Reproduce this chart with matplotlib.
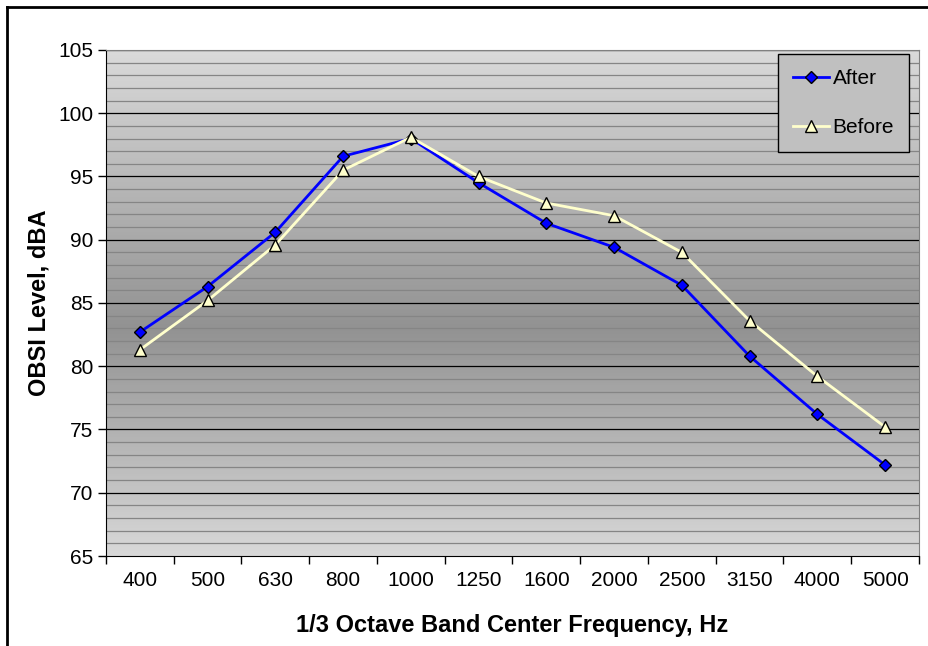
import numpy as np
import matplotlib.pyplot as plt
from matplotlib.colors import LinearSegmentedColormap
from matplotlib.lines import Line2D

plt.rcParams['font.family'] = ['Liberation Sans', 'DejaVu Sans']

bands = ["400", "500", "630", "800", "1000", "1250", "1600",
         "2000", "2500", "3150", "4000", "5000"]
after = [82.7, 86.3, 90.6, 96.6, 98.0, 94.5, 91.3, 89.4, 86.4, 80.8, 76.2, 72.2]
before = [81.3, 85.2, 89.6, 95.5, 98.1, 95.0, 92.9, 91.9, 89.0, 83.6, 79.2, 75.2]

fig = plt.figure(figsize=(9.29, 6.46), dpi=100)
ax = fig.add_axes([106 / 929, 1 - 556 / 646, 813 / 929, 506 / 646])

# outer chart frame (top and left edges)
fig.add_artist(Line2D([7 / 929, 7 / 929], [0, 1 - 7 / 646],
                      transform=fig.transFigure, color="black", lw=2))
fig.add_artist(Line2D([7 / 929, 1], [1 - 7 / 646, 1 - 7 / 646],
                      transform=fig.transFigure, color="black", lw=2))

xs = np.arange(len(bands))
ax.set_xlim(-0.5, len(bands) - 0.5)
ax.set_ylim(65, 105)

# vertical gray gradient, darkest just below the middle
grad = LinearSegmentedColormap.from_list(
    "plotbg", [(0.0, "#dadada"), (0.55, "#929292"), (1.0, "#d8d8d8")])
g = np.linspace(0, 1, 400).reshape(-1, 1)
ax.imshow(g, cmap=grad, aspect="auto", extent=(-0.5, len(bands) - 0.5, 65, 105),
          origin="upper", zorder=0)

for v in range(66, 105):
    if v % 5:
        ax.axhline(v, color="#858585", lw=0.9, zorder=1)
for v in range(70, 106, 5):
    ax.axhline(v, color="black", lw=0.9, zorder=1)

ax.plot(xs, after, color="#0000ff", lw=2.0, marker="D", ms=6.5,
        mfc="#0000ff", mec="black", mew=1.0, label="After", zorder=3)
ax.plot(xs, before, color="#ffffcc", lw=2.0, marker="^", ms=8.5,
        mfc="#ffffcc", mec="black", mew=1.0, label="Before", zorder=3)

ax.set_yticks(range(65, 106, 5))
ax.tick_params(axis="y", direction="out", length=6, width=1,
               labelsize=15, pad=3)

# category labels centred, tick marks on the boundaries
ax.set_xticks(np.arange(-0.5, len(bands)), labels=[""] * (len(bands) + 1))
ax.set_xticks(xs, labels=bands, minor=True)
ax.tick_params(axis="x", which="major", direction="out", length=6, width=1)
ax.tick_params(axis="x", which="minor", length=0, labelsize=15, pad=11)

for s in ("left", "bottom"):
    ax.spines[s].set_color("black")
for s in ("right", "top"):
    ax.spines[s].set_color("#808080")

ax.set_xlabel("1/3 Octave Band Center Frequency, Hz", fontsize=17,
              fontweight="bold", labelpad=17)
ax.set_ylabel("OBSI Level, dBA", fontsize=17, fontweight="bold", labelpad=6)

leg = ax.legend(loc="upper right", bbox_to_anchor=(0.9877, 0.992), fontsize=15,
                frameon=True, fancybox=False, framealpha=1, edgecolor="black",
                facecolor="#c0c0c0", handlelength=1.75, handletextpad=0.15,
                labelspacing=1.45, borderpad=0.72, borderaxespad=0)
leg.get_frame().set_linewidth(1.0)

fig.savefig("out.png", dpi=100)
